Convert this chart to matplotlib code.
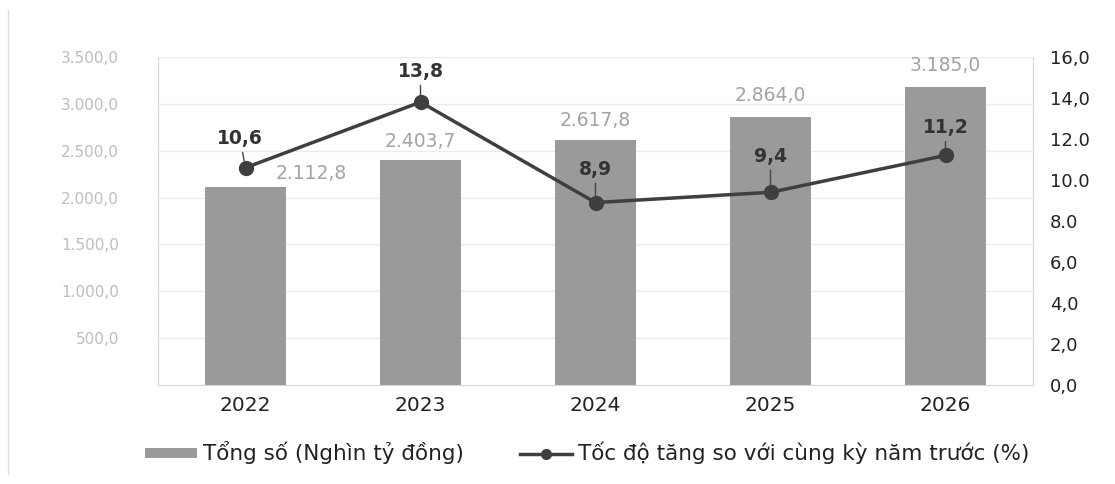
import matplotlib
matplotlib.use("Agg")
import matplotlib.pyplot as plt
from matplotlib.lines import Line2D
from matplotlib.patches import Patch

years = ["2022", "2023", "2024", "2025", "2026"]
totals = [2112.8, 2403.7, 2617.8, 2864.0, 3185.0]
growth = [10.6, 13.8, 8.9, 9.4, 11.2]
left_ticks = [500, 1000, 1500, 2000, 2500, 3000, 3500]
left_tick_labels = ["500,0", "1.000,0", "1.500,0", "2.000,0", "2.500,0", "3.000,0", "3.500,0"]
right_ticks = [0, 2, 4, 6, 8, 10, 12, 14, 16]
right_tick_labels = ["0,0", "2,0", "4,0", "6,0", "8.0", "10.0", "12.0", "14,0", "16,0"]
total_labels = ["2.112,8", "2.403,7", "2.617,8", "2.864,0", "3.185,0"]
growth_labels = ["10,6", "13,8", "8,9", "9,4", "11,2"]
legend_bar = "Tổng số (Nghìn tỷ đồng)"
legend_line = "Tốc độ tăng so với cùng kỳ năm trước (%)"

plt.rcParams['font.family'] = ['DejaVu Sans']

fig = plt.figure(figsize=(11.15, 4.84), dpi=100)
ax = fig.add_axes([158/1115, 1-385/484, 875/1115, 328/484])
ax2 = ax.twinx()

x = list(range(len(years)))
bar_color = "#9a9a9a"
line_color = "#3f3f3f"

ax.bar(x, totals, width=0.46, color=bar_color, zorder=2)
ax.set_xlim(-0.5, 4.5)
ax.set_ylim(0, 3500)
ax.set_yticks(left_ticks)
ax.set_yticklabels(left_tick_labels, color="#bdbdbd", fontsize=11)
ax.set_xticks(x)
ax.set_xticklabels(years, fontsize=14.5, color="#222222")
ax.tick_params(axis='x', length=0, pad=8)
ax.tick_params(axis='y', length=0, pad=28)
ax.grid(axis='y', color="#ebebeb", linewidth=1, zorder=0)
ax.set_axisbelow(True)
for s in ["top", "right"]:
    ax.spines[s].set_visible(False)
ax.spines["left"].set_color("#d5d5d5")
ax.spines["bottom"].set_color("#d5d5d5")

ax2.plot(x, growth, color=line_color, linewidth=2.5, marker='o', markersize=10, zorder=5)
ax2.set_ylim(0, 16)
ax2.set_yticks(right_ticks)
ax2.set_yticklabels(right_tick_labels, fontsize=13, color="#222222")
ax2.tick_params(axis='y', length=0, pad=12)
for s in ["top", "left", "bottom"]:
    ax2.spines[s].set_visible(False)
ax2.spines["right"].set_color("#d5d5d5")

# bar labels
bar_offsets = [(47, 10), (0, 13), (0, 14), (0, 15), (0, 15)]
for i, (v, lab) in enumerate(zip(totals, total_labels)):
    dx, dy = bar_offsets[i]
    ax.annotate(lab, (i, v), xytext=(dx, dy), textcoords="offset points",
                ha="center", va="center", fontsize=13.5, color="#a3a3a3", zorder=6)

# line labels with leader lines
line_offsets = [(-4, 14), (0, 15), (0, 17), (0, 19), (0, 13)]
for i, (v, lab) in enumerate(zip(growth, growth_labels)):
    dx, dy = line_offsets[i]
    ax2.annotate(lab, (i, v), xytext=(dx, dy), textcoords="offset points",
                 ha="center", va="bottom", fontsize=13.5, fontweight="bold",
                 color="#333333", zorder=7,
                 arrowprops=dict(arrowstyle="-", color="#444444", lw=1,
                                 shrinkA=1, shrinkB=5))

handles = [Patch(facecolor=bar_color, edgecolor='none'),
           Line2D([0], [0], color=line_color, lw=2.5, marker='o', markersize=7)]
fig.legend(handles, [legend_bar, legend_line], loc="center", bbox_to_anchor=(0.527, 1-453/484),
           ncol=2, frameon=False, fontsize=15.5, handlelength=2.4, handleheight=0.35,
           handletextpad=0.3, columnspacing=2.6, labelcolor="#222222")

# faint frame at left
fig.add_artist(Line2D([8/1115, 8/1115], [0.02, 0.98], color="#dddddd", lw=1))

fig.savefig("out.png", dpi=100)
